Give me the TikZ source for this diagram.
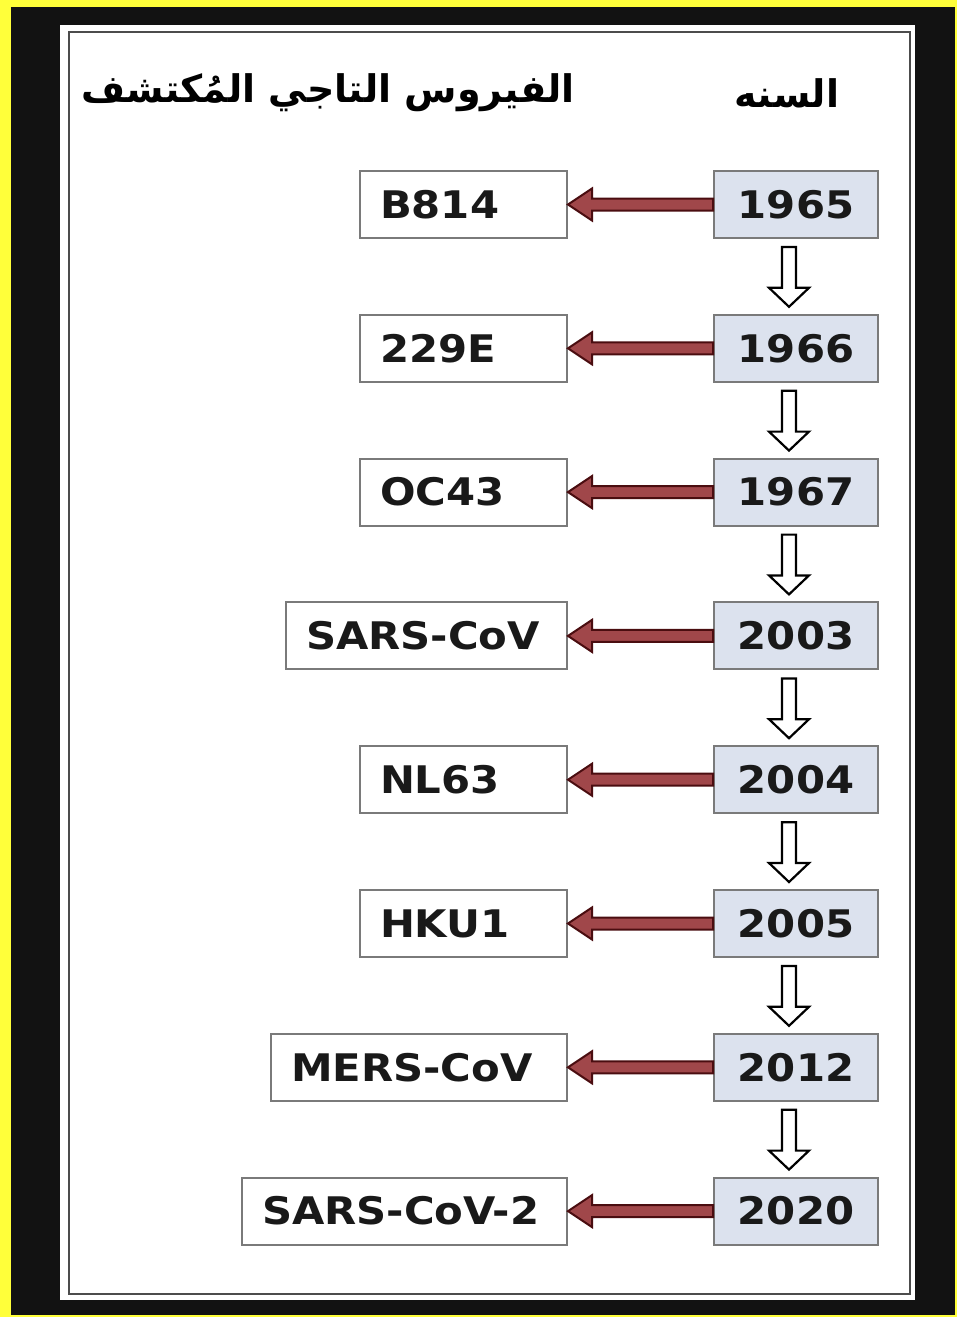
\documentclass[tikz,border=0pt]{standalone}
\usepackage{fontspec}
\setmainfont{DejaVu Sans}
\newfontfamily\arabicfont[Script=Arabic]{DejaVu Sans}
\newfontfamily\boxfam[FakeStretch=1.1]{DejaVu Sans}
\TeXXeTstate=1
\usepackage{tikz}
\usetikzlibrary{calc}
\definecolor{FrameYellow}{HTML}{FFFF3A}
\definecolor{FrameBlack}{HTML}{121212}
\definecolor{YearFill}{HTML}{DCE2EE}
\definecolor{BoxLine}{HTML}{7A7A7A}
\definecolor{ArrowFill}{HTML}{A0474A}
\definecolor{ArrowLine}{HTML}{4A0D10}
\newcommand{\boxfont}{\boxfam\fontsize{38}{40}\selectfont\bfseries}
\newcommand{\headfont}{\arabicfont\fontsize{38}{40}\selectfont\bfseries}
\tikzset{
  yearbox/.style={draw=BoxLine,line width=2pt,fill=YearFill,minimum width=164pt,minimum height=67pt,inner sep=0pt,font=\boxfont,text=black!90},
  virbox/.style={draw=BoxLine,line width=2pt,fill=white,minimum height=67pt,inner xsep=20pt,inner ysep=0pt,anchor=east,align=left,font=\boxfont,text=black!90},
  redarrow/.style={fill=ArrowFill,draw=ArrowLine,line width=2pt,line join=miter},
  downarrow/.style={fill=white,draw=black,line width=2.2pt,line join=miter}
}

\begin{document}
\begin{tikzpicture}[x=1pt,y=-1pt]
  % frame
  \fill[FrameYellow] (0,0) rectangle (957,1317);
  \fill[FrameBlack] (11,7) rectangle (955,1315);
  \fill[white] (60,25) rectangle (915,1300);
  \draw[black!70,line width=2.5pt] (69,32) rectangle (910,1294);
  % header
  \node[font=\headfont] (hvir) at (328,93) {\beginR الفيروس التاجي المُكتشف\endR};
  \node[font=\headfont] (hyear) at (787,93) {\beginR السنه\endR};
  % rows
  \foreach \i/\yr/\vir/\w in {1/1965/B814/167,2/1966/229E/167,3/1967/OC43/167,4/2003/SARS-CoV/241,
                              5/2004/NL63/167,6/2005/HKU1/167,7/2012/MERS-CoV/256,8/2020/SARS-CoV-2/285}{
    \node[yearbox] (y\i) at (796,{204.5+143.8*(\i-1)}) {\yr};
    \node[virbox,text width=\w pt] (v\i) at (568,{204.5+143.8*(\i-1)}) {\vir};
    \draw[redarrow] ($(y\i.west)+(0,-6)$) -- ($(v\i.east)+(24,-6)$) -- ($(v\i.east)+(24,-16)$)
      -- (v\i.east) -- ($(v\i.east)+(24,16)$) -- ($(v\i.east)+(24,6)$) -- ($(y\i.west)+(0,6)$) -- cycle;
  }
  % year to year
  \foreach \i [count=\j from 2] in {1,...,7}{
    \draw[downarrow] ($(y\i.south)+(-14,8)$) -- ($(y\j.north)+(-14,-26)$) -- ($(y\j.north)+(-27,-26)$)
      -- ($(y\j.north)+(-7,-7)$) -- ($(y\j.north)+(13,-26)$) -- ($(y\j.north)+(0,-26)$)
      -- ($(y\i.south)+(0,8)$) -- cycle;
  }
\end{tikzpicture}
\end{document}
